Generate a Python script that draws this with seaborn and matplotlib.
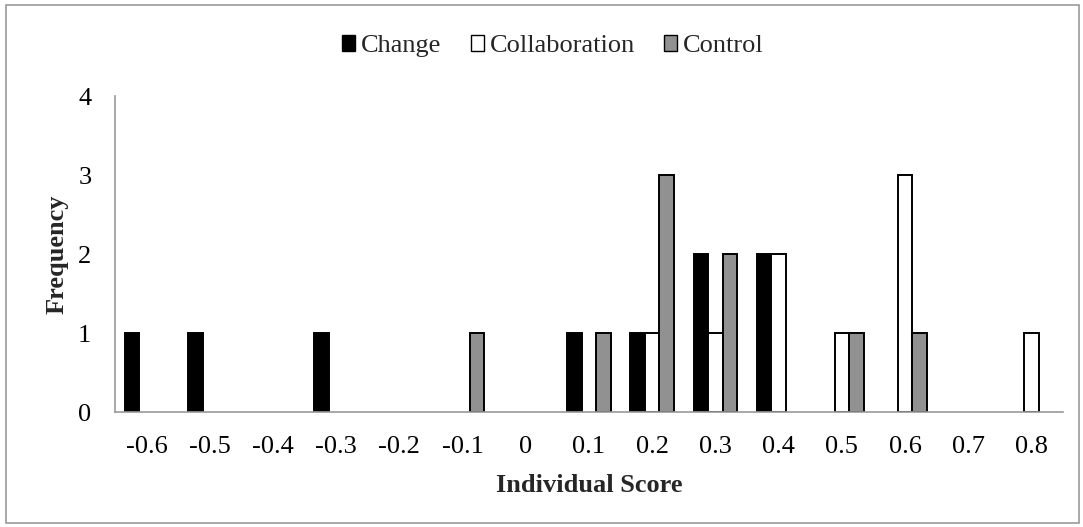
import matplotlib
matplotlib.use("Agg")
import matplotlib.pyplot as plt
import matplotlib.patches as mpatches
import pandas as pd
import seaborn as sns

# categories on the x axis
scores = ["-0.6", "-0.5", "-0.4", "-0.3", "-0.2", "-0.1", "0", "0.1",
          "0.2", "0.3", "0.4", "0.5", "0.6", "0.7", "0.8"]
change = [1, 1, 0, 1, 0, 0, 0, 1, 1, 2, 2, 0, 0, 0, 0]
collaboration = [0, 0, 0, 0, 0, 0, 0, 0, 1, 1, 2, 1, 3, 0, 1]
control = [0, 0, 0, 0, 0, 1, 0, 1, 3, 2, 0, 1, 1, 0, 0]
groups = ["Change", "Collaboration", "Control"]
colors = {"Change": "#000000", "Collaboration": "#ffffff", "Control": "#919191"}

df = pd.DataFrame({
    "score": scores * 3,
    "group": [g for g in groups for _ in scores],
    "freq": change + collaboration + control,
})

sns.set_style("white")
plt.rcParams["font.family"] = ["Liberation Serif", "DejaVu Serif"]

fig = plt.figure(figsize=(10.83, 5.27), dpi=100)
ax = fig.add_axes([0.1062, 0.2182, 0.8753, 0.5996])

sns.barplot(data=df, x="score", y="freq", hue="group", order=scores,
            hue_order=groups, palette=colors, edgecolor="black",
            linewidth=1.4, width=0.69, ax=ax, legend=False)

# hide empty bars so no stray outline sits on the baseline
for p in ax.patches:
    if p.get_height() == 0:
        p.set_visible(False)

ax.set_ylim(0, 4)
ax.set_xlim(-0.5, len(scores) - 0.5)
ax.set_yticks(range(5))
ax.set_xticks(range(len(scores)))
ax.set_xticklabels(scores)
ax.tick_params(axis="x", which="major", labelsize=19, colors="black", length=0, pad=17)
# boundary ticks like Excel
ax.set_xticks([i - 0.5 for i in range(len(scores) + 1)], minor=True)
ax.tick_params(axis="x", which="minor", length=5, color="#999999", width=1)
ax.tick_params(axis="y", which="major", labelsize=19, labelcolor="black", length=5,
               color="#999999", width=1, direction="out", pad=12)

for s in ["top", "right"]:
    ax.spines[s].set_visible(False)
for s in ["left", "bottom"]:
    ax.spines[s].set_color("#999999")
    ax.spines[s].set_linewidth(1.2)

ax.set_xlabel("Individual Score", fontsize=19, fontweight="bold", labelpad=12)
ax.set_ylabel("Frequency", fontsize=19, fontweight="bold", labelpad=7)

handles = [mpatches.Patch(facecolor=colors[g], edgecolor="black", linewidth=1, label=g)
           for g in groups]
fig.legend(handles=handles, loc="center", bbox_to_anchor=(0.5106, 0.912), ncol=3,
           frameon=False, fontsize=19, handlelength=0.5, handleheight=0.5,
           handletextpad=0.23, columnspacing=1.1, borderaxespad=0)

# gray border around the chart area
fig.patches.append(mpatches.Rectangle((0.006, 0.008), 0.99, 0.982, transform=fig.transFigure,
                                      fill=False, edgecolor="#999999", linewidth=1.2))

fig.savefig("out.png", dpi=100)
